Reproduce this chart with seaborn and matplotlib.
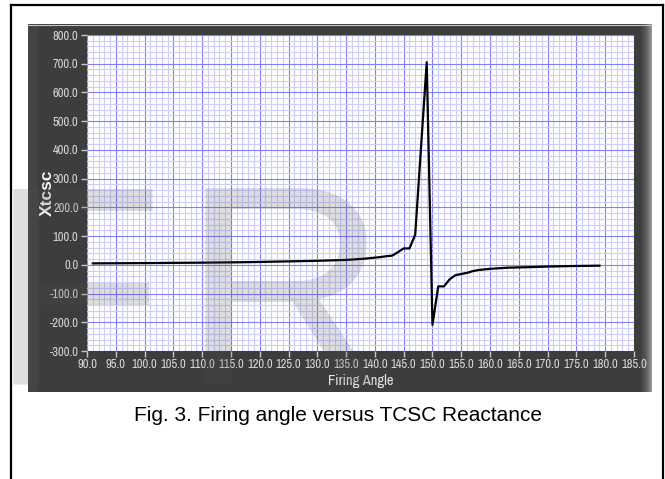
import numpy as np
import pandas as pd
import matplotlib
matplotlib.use("Agg")
import matplotlib.pyplot as plt
import seaborn as sns
from matplotlib.patches import Rectangle
from matplotlib.lines import Line2D
from matplotlib import font_manager

# ---- data ----
firing_angle = [91, 100, 110, 117, 120, 125, 130, 135, 138, 140, 141, 142, 143, 144,
                145, 146, 147, 149, 150, 151, 152, 153, 154, 155, 156, 157, 158,
                160, 163, 167, 170, 175, 179]
xtcsc = [5, 6, 7.5, 9, 10, 12, 14, 17, 21, 25, 27, 30, 32, 44,
         57, 57, 105, 705, -209, -75, -75, -50, -36, -32, -28, -22, -18,
         -14, -10, -8, -6, -4, -3]
x_ticks = [90, 95, 100, 105, 110, 115, 120, 125, 130, 135, 140, 145, 150, 155,
           160, 165, 170, 175, 180, 185]
y_ticks = [-300, -200, -100, 0, 100, 200, 300, 400, 500, 600, 700, 800]
x_label = "Firing Angle"
y_label = "Xtcsc"
caption = "Fig. 3. Firing angle versus TCSC Reactance"

df = pd.DataFrame({"angle": firing_angle, "x": xtcsc})

# pick a condensed sans if one is installed
narrow_font = None
narrow_stretch = "normal"
for f in font_manager.fontManager.ttflist:
    n = f.name.lower()
    if ("narrow" in n or "condensed" in n) and "bold" not in f.style.lower() and f.weight in (400, "normal", "regular"):
        narrow_font = f.name
        break
if narrow_font is None:
    for f in font_manager.fontManager.ttflist:
        st = str(f.stretch).lower()
        if st in ("condensed", "semi-condensed", "500", "600", "700") or (isinstance(f.stretch, int) and f.stretch < 500):
            if f.weight in (400, "normal", "regular") and f.style == "normal":
                narrow_font = f.name
                narrow_stretch = f.stretch
                break
if narrow_font is None:
    narrow_font = "Liberation Sans"
NARROW = [narrow_font, "Liberation Sans", "DejaVu Sans"]
SANS = ["Liberation Sans", "DejaVu Sans"]
tick_fs = 9 if narrow_font != "Liberation Sans" else 6.6

W, H = 665, 479
fig = plt.figure(figsize=(W / 100, H / 100), dpi=100)
fig.patch.set_facecolor("white")

# background axes in pixel coordinates
bg = fig.add_axes([0, 0, 1, 1], zorder=-10)
bg.set_autoscale_on(False)
bg.axis("off")

# dark panel
bg.add_patch(Rectangle((27.5, 24), 624.5, 368, facecolor="#3d3d3d", edgecolor="none"))
bg.add_patch(Rectangle((27.5, 24), 10, 368, facecolor="#444444", edgecolor="none"))
# right gradient edge
grad = np.linspace(0, 1, 64)[None, :]
bg.imshow(grad, extent=[640, 652, 392, 24], aspect="auto", zorder=2,
          cmap=matplotlib.colors.LinearSegmentedColormap.from_list(
              "g", ["#3d3d3d", "#5a5a5a", "#9a9a9a"]))
bg.add_line(Line2D([27.5, 652], [24.5, 24.5], color="#b9c7d6", lw=0.8, zorder=3))

# outer frame (left, top, right)
bg.add_line(Line2D([11, 11], [5, H + 2], color="black", lw=1.6, zorder=4))
bg.add_line(Line2D([11, 663], [5, 5], color="black", lw=1.6, zorder=4))
bg.add_line(Line2D([663, 663], [5, H + 2], color="black", lw=1.6, zorder=4))

bg.set_xlim(0, W)
bg.set_ylim(H, 0)

# labels and caption
bg.text(47, 193, y_label, rotation=90, ha="center", va="center", fontsize=12.5,
        fontweight="bold", color="#f2f2f2", family=SANS)
bg.text(360.5, 381.5, x_label, ha="center", va="center", fontsize=10.5 if narrow_font != "Liberation Sans" else 9.5,
        color="#e6e6e6", family=NARROW, stretch=narrow_stretch)
bg.text(338, 421, caption, ha="center", va="baseline", fontsize=15,
        color="black", family=SANS)

# main plot area
ax = fig.add_axes([87 / W, 1 - 351 / H, (634 - 87) / W, (351 - 35) / H], zorder=1)
ax.set_facecolor("white")
sns.lineplot(data=df, x="angle", y="x", ax=ax, color="black", lw=1.6,
             sort=False, estimator=None)
ax.set_xlim(90, 185)
ax.set_ylim(-300, 800)
ax.set_xticks(x_ticks)
ax.set_yticks(y_ticks)
ax.set_xticks(np.arange(90, 186, 1), minor=True)
ax.set_yticks(np.arange(-300, 801, 20), minor=True)
ax.set_xticklabels([f"{v:.1f}" for v in x_ticks], family=NARROW, stretch=narrow_stretch,
                   fontsize=tick_fs, color="#d8d8d8")
ax.set_yticklabels([f"{v:.1f}" for v in y_ticks], family=NARROW, stretch=narrow_stretch,
                   fontsize=tick_fs, color="#d8d8d8")
ax.grid(which="minor", color="#cdcdff", lw=0.8, zorder=0)
ax.grid(which="major", color="#7f7fff", lw=0.8, zorder=0)
ax.set_axisbelow(True)
ax.tick_params(which="major", length=4, width=1, color="#c8c8c8", pad=2)
ax.tick_params(which="minor", length=0)
ax.set_xlabel("")
ax.set_ylabel("")
for s in ax.spines.values():
    s.set_visible(False)

# watermark overlay
wm = fig.add_axes([0, 0, 1, 1], zorder=20)
wm.set_xlim(0, W)
wm.set_ylim(H, 0)
wm.axis("off")
wm.patch.set_alpha(0)
wm.text(-10, 383, "F", fontsize=205, family=SANS, color="#505050", alpha=0.19,
        ha="left", va="baseline")
wm.text(182, 383, "R", fontsize=205, family=SANS, color="#505050", alpha=0.19,
        ha="left", va="baseline")

fig.savefig("out.png", dpi=100)
